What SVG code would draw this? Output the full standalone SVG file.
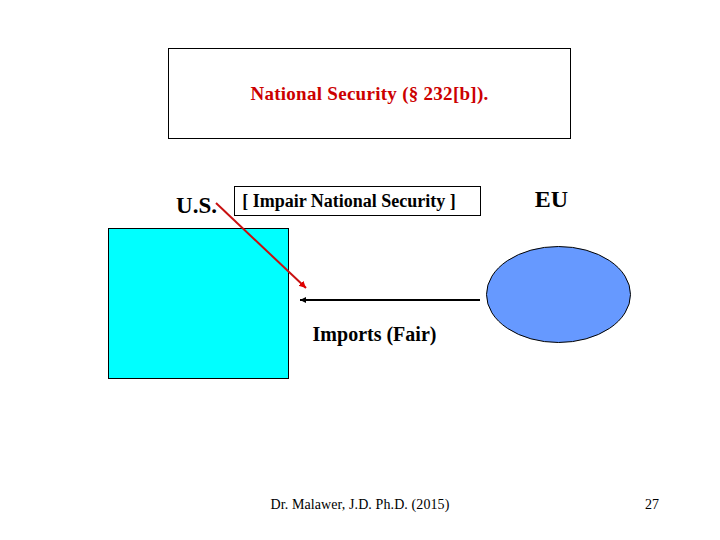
<svg xmlns="http://www.w3.org/2000/svg" width="720" height="540" viewBox="0 0 720 540">
<defs>
<style>
text{font-family:"Liberation Serif","Times New Roman",serif;font-weight:bold}
.f{font-weight:normal}
</style>
<marker id="r" markerUnits="userSpaceOnUse" markerWidth="9" markerHeight="9" refX="7" refY="3.500" orient="auto"><path d="M0 0L7 3.500L0 7Z" fill="#e00000"/></marker>
<marker id="k" markerUnits="userSpaceOnUse" markerWidth="7" markerHeight="7" refX="6" refY="3" orient="auto"><path d="M0 0L6 3L0 6Z" fill="#000"/></marker>
</defs>
<rect width="720" height="540" fill="#fff"/>
<g id="title"><rect x="168.500" y="48.500" width="402" height="90" fill="#fff" stroke="#000"/><text x="369.500" y="100" font-size="19" letter-spacing=".28" fill="#cc0000" text-anchor="middle">National Security (§ 232[b]).</text></g>
<g id="us-label"><text x="196.500" y="213" font-size="23" text-anchor="middle">U.S.</text></g>
<g id="impair"><rect x="234.500" y="186.500" width="246" height="29" fill="#fff" stroke="#000"/><text x="349" y="207" font-size="18" text-anchor="middle">[ Impair National Security ]</text></g>
<g id="eu-label"><text x="551.500" y="207" font-size="24" text-anchor="middle">EU</text></g>
<g id="us"><rect x="108.500" y="228.500" width="180" height="150" fill="#00ffff" stroke="#000"/></g>
<g id="eu"><ellipse cx="558.500" cy="294.500" rx="72" ry="48" fill="#6699ff" stroke="#000"/></g>
<g id="connectors"><line x1="216" y1="203" x2="306" y2="288" stroke="#c81010" stroke-width="2" marker-end="url(#r)"/><line x1="480" y1="300" x2="300" y2="300" stroke="#000" stroke-width="2" marker-end="url(#k)"/></g>
<g id="imports"><text x="374.500" y="341" font-size="20" text-anchor="middle">Imports (Fair)</text></g>
<g id="footer"><text class="f" x="360" y="509" font-size="14" letter-spacing=".1" text-anchor="middle">Dr. Malawer, J.D. Ph.D. (2015)</text><text class="f" x="652" y="509" font-size="14" text-anchor="middle">27</text></g>
</svg>
